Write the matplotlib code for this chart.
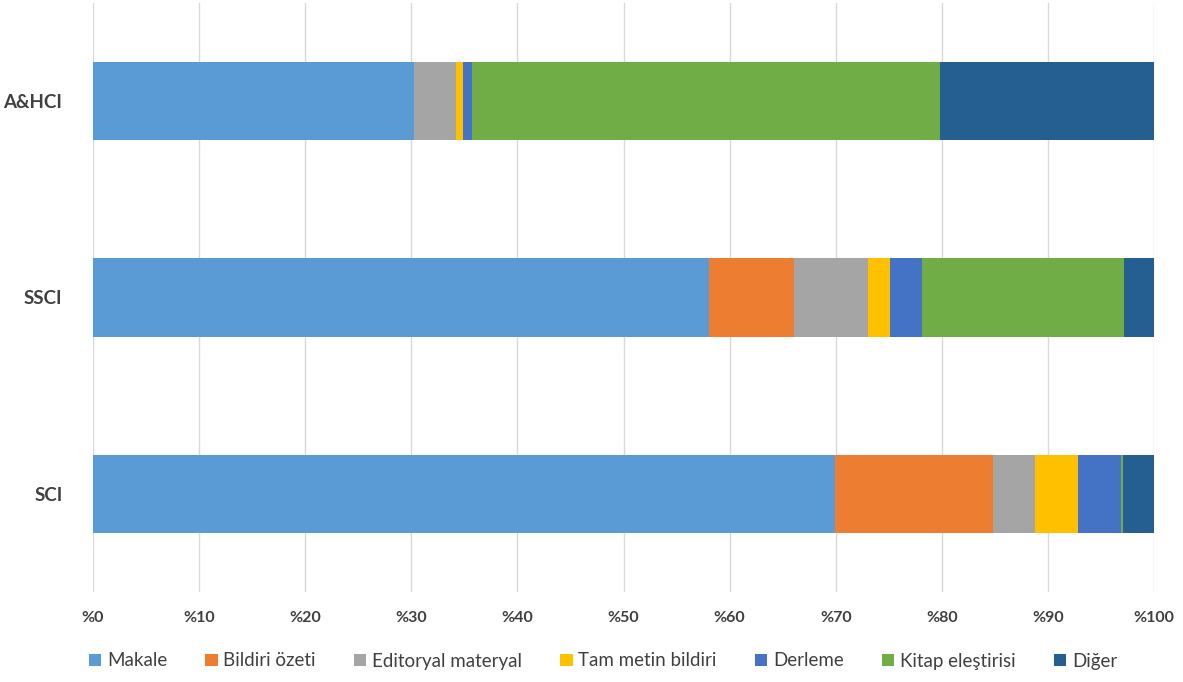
import matplotlib
matplotlib.use("Agg")
import matplotlib.pyplot as plt
import numpy as np

categories = ["SCI", "SSCI", "A&HCI"]
series = ["Makale", "Bildiri özeti", "Editoryal materyal", "Tam metin bildiri",
          "Derleme", "Kitap eleştirisi", "Diğer"]
# values per category (SCI, SSCI, A&HCI), percent
makale = [69.9, 58.1, 30.3]
bildiri = [14.9, 8.0, 0.0]
editoryal = [4.0, 6.9, 3.9]
tam_metin = [4.0, 2.1, 0.65]
derleme = [4.05, 3.0, 0.9]
kitap = [0.25, 19.1, 44.1]
diger = [2.9, 2.8, 20.15]
colors = ["#5b9bd5", "#ed7d31", "#a5a5a5", "#ffc000", "#4472c4", "#70ad47", "#255e91"]
xticklabels = ["%0", "%10", "%20", "%30", "%40", "%50", "%60", "%70", "%80", "%90", "%100"]

data = [makale, bildiri, editoryal, tam_metin, derleme, kitap, diger]

plt.rcParams['font.family'] = ['Lato', 'DejaVu Sans']
fig = plt.figure(figsize=(11.83, 6.82), dpi=100)
ax = fig.add_axes([93/1183, 1-592/682, (1154-93)/1183, (592-3)/682])

y = np.arange(len(categories))
left = np.zeros(len(categories))
for name, vals, c in zip(series, data, colors):
    vals = np.array(vals)
    ax.barh(y, vals, left=left, height=0.4, color=c, label=name, edgecolor='none')
    left += vals

ax.set_xlim(0, 100)
ax.set_ylim(-0.5, 2.5)
ax.set_xticks(np.arange(0, 101, 10))
ax.set_xticklabels(xticklabels, fontsize=11.5, fontweight='bold', color='#404040')
ax.set_yticks(y)
ax.set_yticklabels(categories, fontsize=13.5, fontweight='bold', color='#404040')
ax.tick_params(axis='both', length=0)
ax.tick_params(axis='x', pad=14)
ax.tick_params(axis='y', pad=22)
for s in ax.spines.values():
    s.set_visible(False)
ax.grid(axis='x', color='#d9d9d9', linewidth=1)
ax.set_axisbelow(True)

handles, labels = ax.get_legend_handles_labels()
leg = fig.legend(handles, labels, loc='center', bbox_to_anchor=(603/1183, 1-661/682),
                 ncol=7, frameon=False, fontsize=13.5, handlelength=0.65, handleheight=0.65,
                 handletextpad=0.3, columnspacing=2.05)
for t in leg.get_texts():
    t.set_color('#404040')

fig.savefig("out.png", dpi=100)
